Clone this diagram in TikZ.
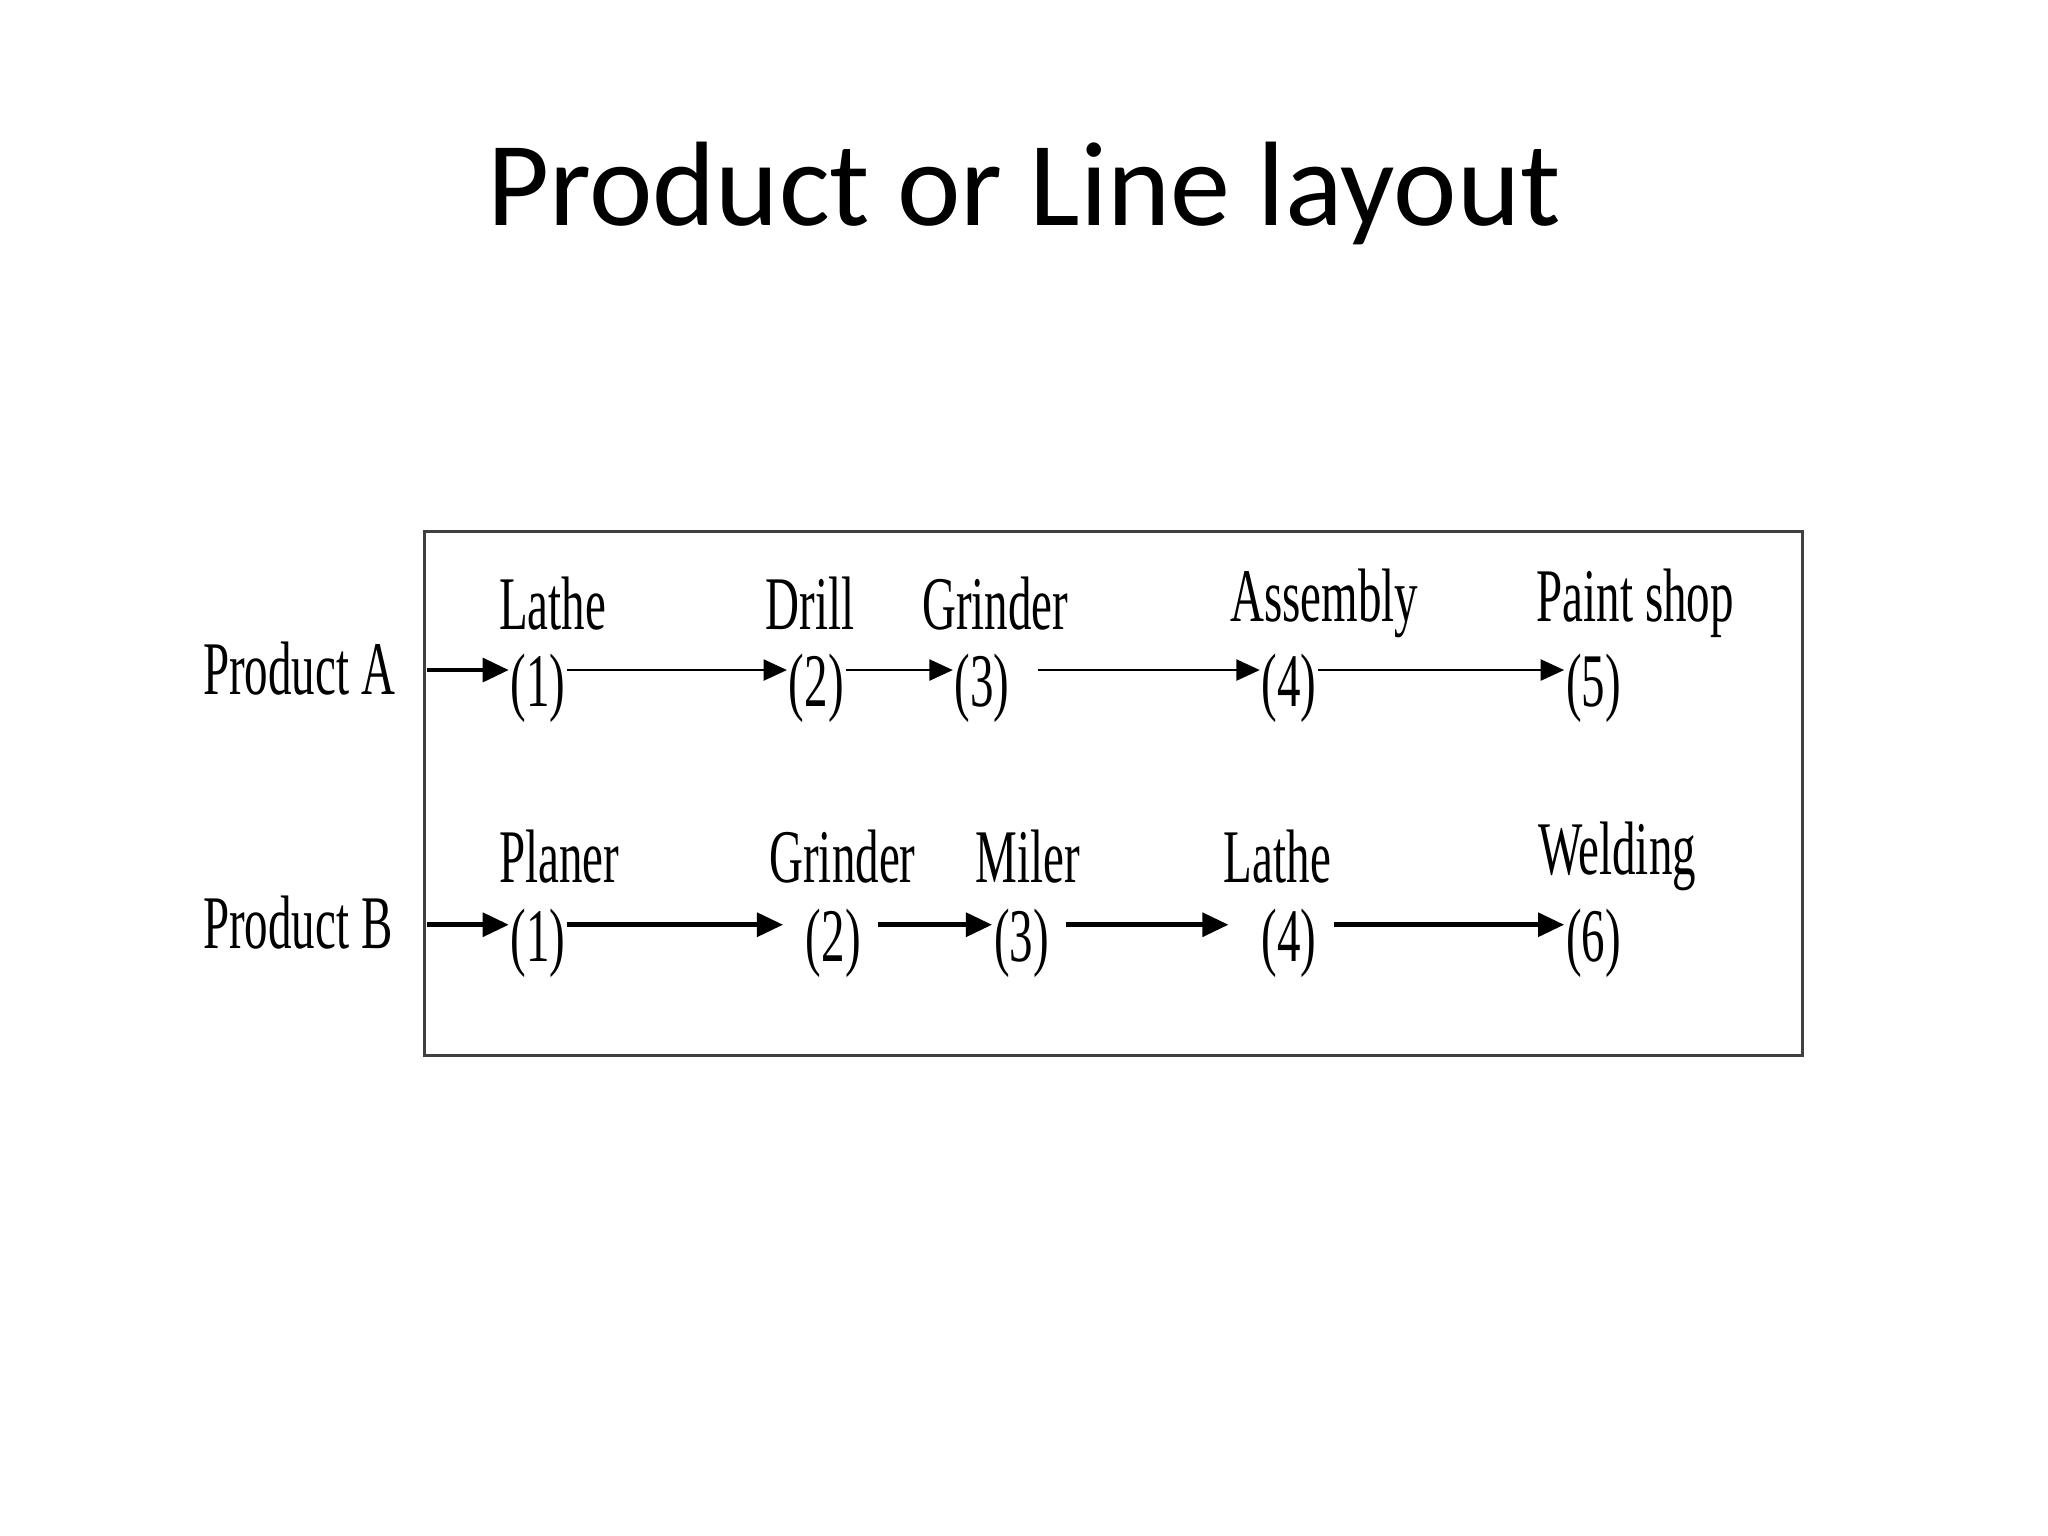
\documentclass[tikz,border=0pt]{standalone}
\usepackage{fontspec}
\setmainfont{Liberation Serif}
\newfontfamily\titlefont{Carlito}
\usetikzlibrary{arrows.meta}
\begin{document}
\begin{tikzpicture}[x=0.5pt,y=-0.5pt,
  lab/.style={font=\fontsize{29pt}{30pt}\selectfont, xscale=0.62, transform shape, inner sep=0pt},
  num/.style={font=\fontsize{29pt}{30pt}\selectfont, xscale=0.62, transform shape, inner sep=1pt},
  flow/.style={line width=1.1pt,-{Triangle[length=9pt,width=8pt]}},
  flowb/.style={line width=1.8pt,-{Triangle[length=10pt,width=9pt]}}]
\useasboundingbox (0,0) rectangle (1568,1176);
\node[font=\titlefont\fontsize{46pt}{50pt}\selectfont] (title) at (784,148) {Product or Line layout};
\draw[line width=0.9pt, draw=black!75] (325,407) rectangle (1380,808);
% Row A
\node[lab] (pA) at (229,512) {Product A};
\coordinate (sA) at (327,513);
\node[lab] (la1) at (423,462) {Lathe};
\node[lab] (la2) at (620,462) {Drill};
\node[lab] (la3) at (762,462) {Grinder};
\node[lab] (la4) at (1014,462) {Assembly};
\node[lab] (la5) at (1252,462) {Paint shop};
\node[num] (a1) at (412,527) {(1)};
\node[num] (a2) at (625,527) {(2)};
\node[num] (a3) at (752,527) {(3)};
\node[num] (a4) at (987,527) {(4)};
\node[num] (a5) at (1220,527) {(5)};
\draw[flowb] (sA) -- (sA -| a1.west);
\draw[flow] (a1.east |- sA) -- (a2.west |- sA);
\draw[flow] (a2.east |- sA) -- (a3.west |- sA);
\draw[flow] ([xshift=10]a3.east |- sA) -- (a4.west |- sA);
\draw[flow] (a4.east |- sA) -- (a5.west |- sA);
% Row B
\node[lab] (pB) at (228,706) {Product B};
\coordinate (sB) at (327,708);
\node[lab] (lb1) at (428,656) {Planer};
\node[lab] (lb2) at (645,656) {Grinder};
\node[lab] (lb3) at (787,656) {Miler};
\node[lab] (lb4) at (978,656) {Lathe};
\node[lab] (lb5) at (1238,656) {Welding};
\node[num] (b1) at (412,722) {(1)};
\node[num] (b2) at (638,722) {(2)};
\node[num] (b3) at (782,722) {(3)};
\node[num] (b4) at (987,722) {(4)};
\node[num] (b5) at (1220,722) {(6)};
\draw[flowb] (sB) -- (sB -| b1.west);
\draw[flowb] (b1.east |- sB) -- ([xshift=-8]b2.west |- sB);
\draw[flowb] ([xshift=6]b2.east |- sB) -- (b3.west |- sB);
\draw[flowb] ([xshift=6]b3.east |- sB) -- ([xshift=-12]b4.west |- sB);
\draw[flowb] ([xshift=6]b4.east |- sB) -- (b5.west |- sB);
\end{tikzpicture}
\end{document}
